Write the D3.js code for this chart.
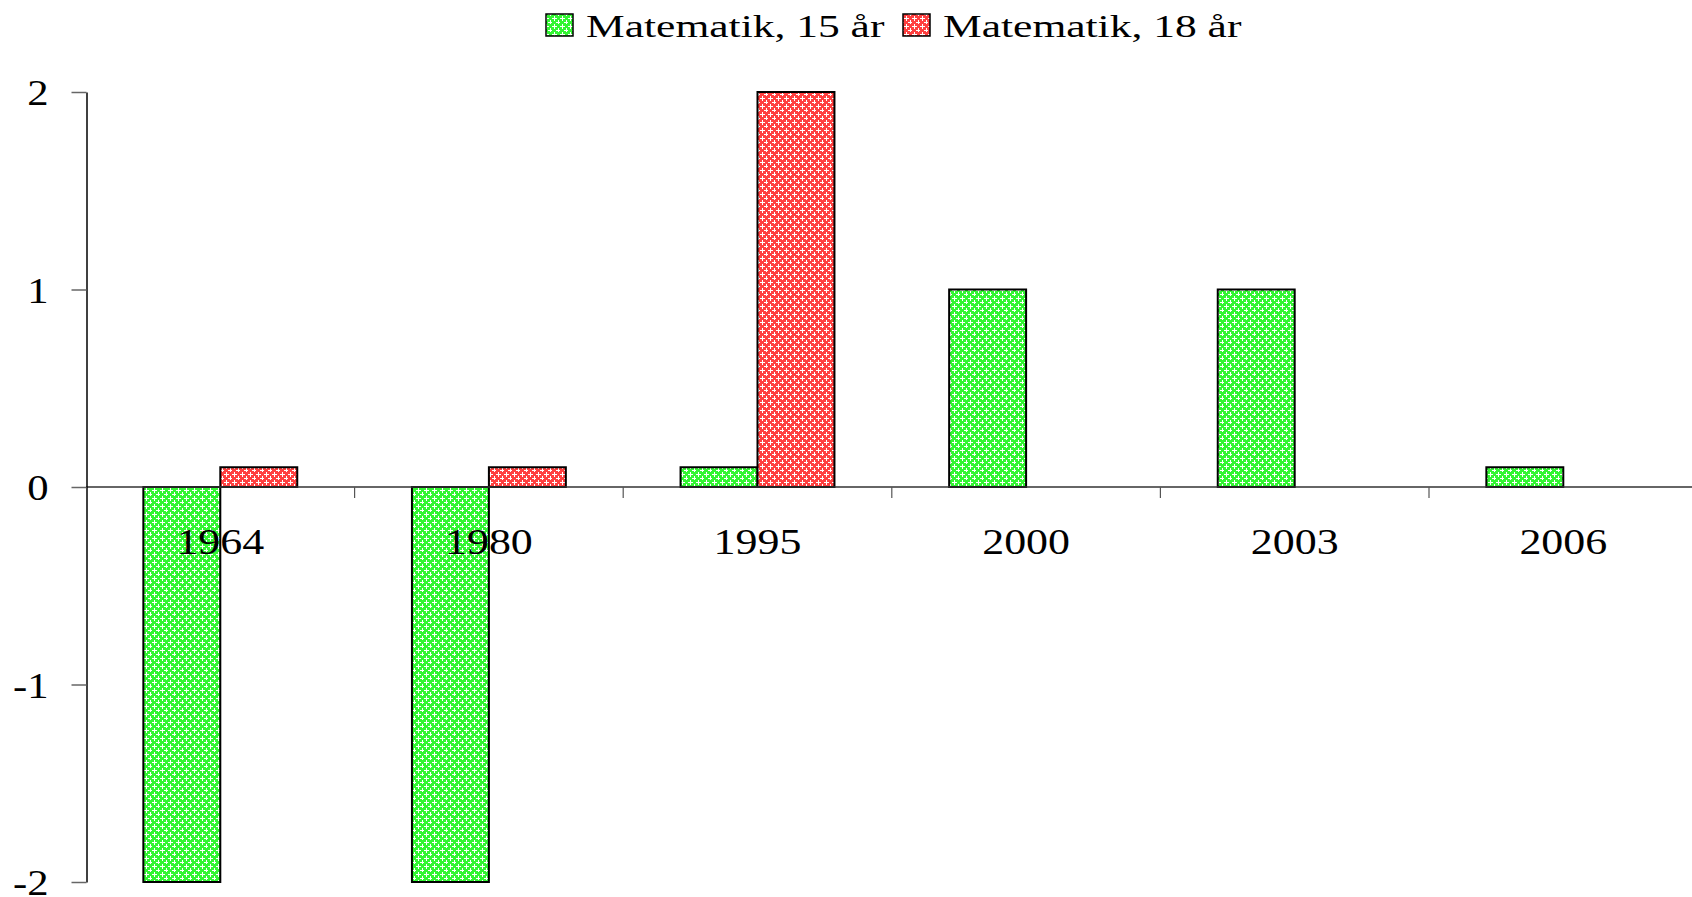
<!DOCTYPE html>
<html>
<head>
<meta charset="utf-8">
<script src="https://cdn.jsdelivr.net/npm/d3@7"></script>
<style>
  body { margin: 0; background: #fff; }
  svg { display: block; font-family: "Liberation Serif", "Times New Roman", serif; }
</style>
</head>
<body>
<div class="chart"></div>
<script>
// data
const years = ["1964", "1980", "1995", "2000", "2003", "2006"];
const math15 = [-2, -2, 0.1, 1, 1, 0.1];
const math18 = [0.1, 0.1, 2, null, null, null];
const seriesNames = ["Matematik, 15 år", "Matematik, 18 år"];
const yTicks = [-2, -1, 0, 1, 2];

const width = 1692, height = 897;
const stretch = 1.22;       // axis labels look horizontally widened
const legendStretch = 1.36; // legend text even more so

const svg = d3.select(".chart").append("svg")
  .attr("width", width)
  .attr("height", height);

// fill patterns (coloured with white little crosses)
const defs = svg.append("defs");
function makePattern(id, color) {
  const p = defs.append("pattern")
    .attr("id", id)
    .attr("width", 8).attr("height", 8)
    .attr("patternUnits", "userSpaceOnUse");
  p.append("rect").attr("width", 8).attr("height", 8).attr("fill", color);
  [[2, 2], [6, 6]].forEach(([cx, cy]) => {
    p.append("rect").attr("x", cx - 2).attr("y", cy).attr("width", 5).attr("height", 1).attr("fill", "#fff");
    p.append("rect").attr("x", cx).attr("y", cy - 2).attr("width", 1).attr("height", 5).attr("fill", "#fff");
  });
}
makePattern("pGreen", "#33f533");
makePattern("pRed", "#ff4040");
const fills = ["url(#pGreen)", "url(#pRed)"];

// scales
const x = d3.scaleBand()
  .domain(years)
  .range([86, 86 + 6 * 268.6])
  .paddingInner(0.427)
  .paddingOuter(0.2135);

const xs = d3.scaleBand()
  .domain([0, 1])
  .range([0, x.bandwidth()]);

const y = d3.scaleLinear()
  .domain([-2, 2])
  .range([882, 92]);

// bars
const series = [math15, math18];
series.forEach((vals, si) => {
  svg.append("g")
    .selectAll("rect")
    .data(years.map((yr, i) => ({ yr, v: vals[i] })).filter(d => d.v != null))
    .join("rect")
    .attr("x", d => x(d.yr) + xs(si))
    .attr("width", xs.bandwidth())
    .attr("y", d => y(Math.max(0, d.v)))
    .attr("height", d => Math.abs(y(d.v) - y(0)))
    .attr("fill", fills[si])
    .attr("stroke", "#000")
    .attr("stroke-width", 2);
});

// zero line with ticks between categories
const zeroY = y(0);
svg.append("line")
  .attr("x1", x.range()[0]).attr("x2", width)
  .attr("y1", zeroY).attr("y2", zeroY)
  .attr("stroke", "#333").attr("stroke-width", 1.5);

svg.append("g")
  .selectAll("line")
  .data(years.slice(1))
  .join("line")
  .attr("x1", d => x(d) - x.step() * x.paddingInner() / 2)
  .attr("x2", d => x(d) - x.step() * x.paddingInner() / 2)
  .attr("y1", zeroY).attr("y2", zeroY + 11)
  .attr("stroke", "#555").attr("stroke-width", 1.2);

// category labels
const xAxis = svg.append("g")
  .attr("transform", `translate(0,${zeroY})`)
  .call(d3.axisBottom(x).tickSize(0));
xAxis.select(".domain").remove();
xAxis.selectAll("text")
  .attr("y", 67).attr("dy", 0)
  .attr("transform", `scale(${stretch},1)`)
  .attr("fill", "#000")
  .style("font-family", "Liberation Serif, serif")
  .style("font-size", "36px");

// y axis
const yAxis = svg.append("g")
  .attr("transform", `translate(${x.range()[0] + 0.5},0)`)
  .call(d3.axisLeft(y).tickValues(yTicks).tickFormat(d3.format("d")).tickSize(15).tickSizeOuter(0));
yAxis.select(".domain").attr("stroke", "#000").attr("stroke-width", 1.5);
yAxis.selectAll(".tick line").attr("stroke", "#666").attr("stroke-width", 1.5);
yAxis.selectAll("text")
  .attr("x", -38 / stretch)
  .attr("dy", "0.36em")
  .attr("transform", `scale(${stretch},1)`)
  .attr("fill", "#000")
  .style("font-family", "Liberation Serif, serif")
  .style("font-size", "35px")
  .text(d => d < 0 ? "-" + Math.abs(d) : d);

// legend
const legendX = [546, 903];
const legend = svg.append("g");
seriesNames.forEach((name, i) => {
  legend.append("rect")
    .attr("x", legendX[i]).attr("y", 14)
    .attr("width", 27).attr("height", 22)
    .attr("fill", fills[i])
    .attr("stroke", "#000").attr("stroke-width", 1.5);
  legend.append("text")
    .attr("x", (legendX[i] + 40) / legendStretch).attr("y", 37)
    .attr("transform", `scale(${legendStretch},1)`)
    .style("font-size", "32px")
    .attr("fill", "#000")
    .text(name);
});
</script>
</body>
</html>
